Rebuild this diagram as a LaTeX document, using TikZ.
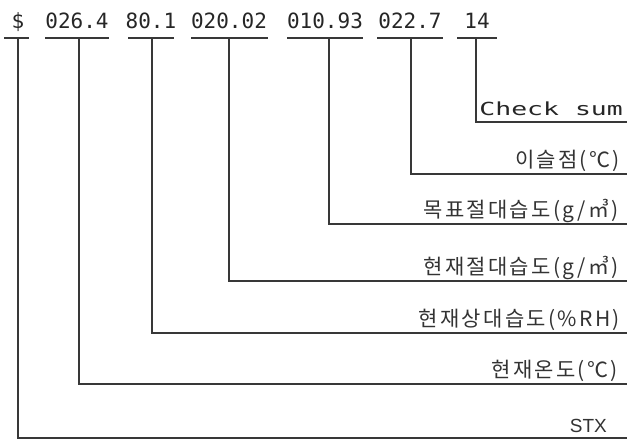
\documentclass[tikz,border=0pt]{standalone}
\usepackage{fontspec}
\newfontfamily\monof{DejaVu Sans Mono}
\newfontfamily\korf[LetterSpace=11]{Noto Sans CJK KR}
\newfontfamily\latf{Liberation Sans}
\begin{document}
\begin{tikzpicture}[x=1pt,y=-1pt,
  wire/.style={draw=black!78,line width=1.3pt},
  num/.style={inner sep=0pt,anchor=base,text=black!85,font=\monof\fontsize{21}{21}\selectfont},
  lab/.style={inner sep=0pt,anchor=base east,text=black!80,font=\korf\fontsize{21}{21}\selectfont}]
\useasboundingbox (0,0) rectangle (627,439);
% top fields
\node[num] (f0) at (18,28) {\$};
\node[num] (f1) at (77,28) {026.4};
\node[num] (f2) at (151,28) {80.1};
\node[num] (f3) at (229,28) {020.02};
\node[num] (f4) at (325,28) {010.93};
\node[num] (f5) at (410,28) {022.7};
\node[num] (f6) at (477,28) {14};
% underlines
\draw[wire] (4,38) -- (29,38);
\draw[wire] (45,38) -- (109,38);
\draw[wire] (128,38) -- (174,38);
\draw[wire] (191,38) -- (268,38);
\draw[wire] (287,38) -- (363,38);
\draw[wire] (377,38) -- (443,38);
\draw[wire] (457,38) -- (497,38);
% tap points
\coordinate (u0) at (18,38);
\coordinate (u1) at (79,38);
\coordinate (u2) at (152,38);
\coordinate (u3) at (229,38);
\coordinate (u4) at (329,38);
\coordinate (u5) at (411,38);
\coordinate (u6) at (476,38);
% line ends
\coordinate (e6) at (627,122);
\coordinate (e5) at (627,174);
\coordinate (e4) at (627,224);
\coordinate (e3) at (627,281);
\coordinate (e2) at (627,333);
\coordinate (e1) at (627,384);
\coordinate (e0) at (627,438);
% labels
\node[inner sep=0pt,anchor=base east,text=black!85] (l6) at (623,115)
  {\scalebox{1.47}[1]{\monof\fontsize{18}{18}\selectfont Check sum}};
\node[lab] (l5) at (620,167) {이슬점(℃)};
\node[lab] (l4) at (619,217) {목표절대습도(g/㎥)};
\node[lab] (l3) at (619,274) {현재절대습도(g/㎥)};
\node[lab] (l2) at (620,326) {현재상대습도(\%RH)};
\node[lab] (l1) at (618,377) {현재온도(℃)};
\node[inner sep=0pt,anchor=base east,text=black!80,font=\latf\fontsize{19}{19}\selectfont] (l0) at (607,432) {STX};
% connectors
\draw[wire] (u0) |- (e0);
\draw[wire] (u1) |- (e1);
\draw[wire] (u2) |- (e2);
\draw[wire] (u3) |- (e3);
\draw[wire] (u4) |- (e4);
\draw[wire] (u5) |- (e5);
\draw[wire] (u6) |- (e6);
\end{tikzpicture}
\end{document}
